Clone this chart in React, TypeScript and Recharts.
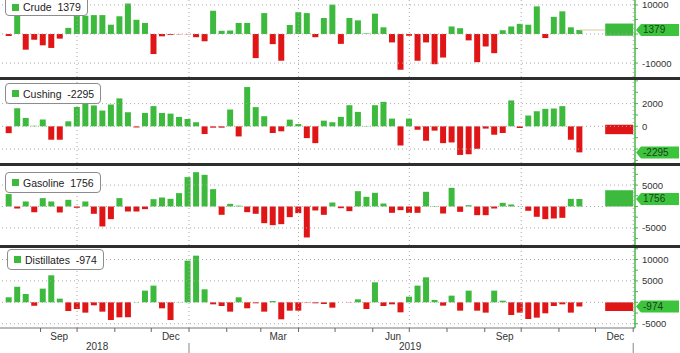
import React from "react";
import { BarChart, Bar, XAxis, YAxis, Cell, ReferenceLine, ReferenceArea, Legend } from "recharts";

const FONT = "'Liberation Sans', Arial, sans-serif";
const GREEN = "#3dba3d";
const RED = "#e01616";
const GRID = "#a8a8a8";
const AXIS_GREEN = "#46b846";

// weekly inventory changes, early Aug 2018 -> late Nov 2019 (one value per week)
const crude = [
  -700, 7500, -5400, -2000, -3900, -4800, -1600, 2100, 7800, 6300,
  6500, 6500, 3200, 6100, 10500, 4900, 3800, -6900, -800, -300,
  -100, -100, -1100, -2500, 8000, 1100, 1200, 3800, 3800, -8300,
  7200, -3500, -9200, 3100, 7500, 7200, -1100, 5500, 10100, -3400,
  5500, 4700, 200, 7000, 2300, -2900, -12300, -600, -9200, -2900,
  -10400, -8100, 2600, 2000, -2200, -9700, -4300, -6600, 1300, 2600,
  3500, 3200, 9500, -1400, 5900, 7800, 2300, 1379,
];
const cushing = [
  -600, 1600, 740, 60, 600, -1180, -1180, 440, 1700, 2070,
  1840, 1390, 1920, 2460, 1240, -100, 1180, 1780, 1180, 1120,
  830, 650, 360, -680, -120, -120, 1480, -890, 3460, 1690,
  890, -590, -440, 590, 200, -1040, -1480, 500, 360, 830,
  1860, 1270, 30, 1860, 2160, 680, -1690, 680, -300, -1270,
  -380, -1480, -1420, -2520, -2460, -1980, -200, -740, -590, 2280,
  -150, 950, 1330, 1540, 1570, 1780, -1180, -2295,
];
const gasoline = [
  2900, -470, 1170, -1330, 1950, 1170, -1400, 1560, -310, 1170,
  -1710, -4670, -2960, 1950, -1170, -1170, -620, 1710, 2100, 1790,
  3120, 6860, 8020, 7400, 4050, -1950, 620, 200, -1330, -1710,
  -3900, -4360, -4130, -2490, -1560, -7240, -930, -1950, 930, -400,
  -1090, 3580, 2260, 3200, 700, -1480, -860, -1480, -1480, 3430,
  100, -1640, 4360, -1250, 300, -2030, -2030, -470, 860, 470,
  50, -1010, -2410, -2960, -2800, -2650, 1790, 1756,
];
const distillates = [
  1170, 3660, 1950, -780, 3200, 6310, 860, -2030, -1560, -2410,
  -700, -2180, -4130, -3510, -3510, 50, 2730, 3900, -1400, -4130,
  50, 9740, 10900, 3040, -470, -860, -2180, 1170, -1400, -230,
  -2180, 300, -3970, -1950, -1950, -80, -230, -390, -1250, 0,
  -50, 700, -1560, 4670, -860, -470, -2340, 1320, 3900, 5840,
  550, -780, 1560, -1950, 2730, -1950, -2410, 2730, 390, -2960,
  -2410, -3900, -3580, -2570, -860, -470, -2410, -974,
];

// summary block at the right edge (low, high)
const crudeBox = [-600, 3600];
const cushingBox = [-690, 140];
const gasolineBox = [0, 3800];
const distillatesBox = [-2030, 0];

// x positions in weeks from the first bar
const xDomain = [-1.05, 73.5];
const boxSpan = [70.0, 73.29];
const quarterPos = [8.0, 21.14, 34.0, 47.0, 60.14, 73.29];
const monthTickPos = [3.71, 8.0, 12.43, 16.71, 21.14, 25.57, 29.57, 34.0, 38.29, 42.71, 47.0, 51.43, 55.86, 60.14, 64.57, 68.86, 73.29];
const monthLabelPos = [5.9, 19.0, 31.6, 45.1, 58.2, 71.2];
const monthLabels = ["Sep", "Dec", "Mar", "Jun", "Sep", "Dec"];
const yearLabelPos = [10.35, 47.1];
const yearLabels = ["2018", "2019"];
const yearBoundPos = [21.14, 73.29];

// right-axis ticks; labels hidden under the value tag are left out
const crudeTicks = [10000, 5000, 0, -5000, -10000];
const crudeLabels = [10000, -10000];
const cushingTicks = [4000, 3000, 2000, 1000, 0, -1000, -2000, -3000];
const cushingLabels = [2000, 0];
const gasolineTicks = [7500, 5000, 2500, 0, -2500, -5000, -7500];
const gasolineLabels = [5000, -5000];
const distillatesTicks = [12500, 10000, 7500, 5000, 2500, 0, -2500, -5000];
const distillatesLabels = [10000, 5000, -5000];
const gridLevels = {
  crude: [10000, 0, -10000],
  cushing: [2000, 0, -2000],
  gasoline: [5000, 0, -5000],
  distillates: [10000, 5000, 0, -5000],
};

function MonthTick(props: any) {
  const { x, y, payload } = props;
  const k = monthLabelPos.indexOf(payload.value);
  if (k >= 0)
    return <text x={x} y={y + 11.5} textAnchor="middle" fontSize={10} fill="#333" fontFamily={FONT}>{monthLabels[k]}</text>;
  return <line x1={x} x2={x} y1={y} y2={y + 4} stroke="#666" />;
}

function YearTick(props: any) {
  const { x, y, payload } = props;
  const k = yearLabelPos.indexOf(payload.value);
  if (k >= 0)
    return <text x={x} y={y + 9.5} textAnchor="middle" fontSize={10} fill="#333" fontFamily={FONT}>{yearLabels[k]}</text>;
  return <line x1={x} x2={x} y1={y + 3} y2={y + 13} stroke="#888" />;
}

const makeYTick = (labels: number[]) => (props: any) => {
  const { x, y, payload } = props;
  if (!labels.includes(payload.value)) return <g />;
  return (
    <text x={x} y={y} dy={3.5} textAnchor="start" fontSize={9.5} fill="#333" fontFamily={FONT}>
      {payload.value}
    </text>
  );
};

function Tag(props: any) {
  const { viewBox, text } = props;
  const x = viewBox.x + viewBox.width;
  const y = viewBox.y;
  return (
    <g>
      <polygon
        points={`${x + 1},${y} ${x + 6},${y - 6} ${x + 44},${y - 6} ${x + 44},${y + 6} ${x + 6},${y + 6}`}
        fill="#3cc43c"
      />
      <text x={x + 8} y={y} dy={3.5} fontSize={10} fill="#1d3d1d" fontFamily={FONT}>{text}</text>
    </g>
  );
}

function LegendBox({ name, value, tight }: { name: string; value: number; tight?: boolean }) {
  return (
    <div style={{
      display: "inline-flex", alignItems: tight ? "flex-end" : "center", boxSizing: "border-box", height: 21,
      border: "1px solid #8c8c8c", borderRadius: 4, background: "#fff",
      padding: tight ? "0 6px 2px 6px" : "0 6px",
      fontFamily: FONT, fontSize: 10.5, color: "#222", whiteSpace: "pre",
    }}>
      <span style={{ display: "inline-block", width: 7, height: 7, background: GREEN, marginRight: 4, marginBottom: tight ? 2 : 0 }} />
      {`${name}  ${value}`}
    </div>
  );
}

type PanelProps = {
  name: string; values: number[]; box: number[]; domain: number[];
  ticks: number[]; labels: number[]; grid: number[]; top: number; height: number;
  legendTop: number; legendLeft: number; withAxis?: boolean; lastLine?: boolean; tight?: boolean;
};

function Panel(p: PanelProps) {
  const rows = p.values.map((v, i) => ({ week: i, value: v }));
  const last = p.values[p.values.length - 1];
  return (
    <div style={{ position: "absolute", left: 0, top: p.top }}>
      <BarChart width={680} height={p.height} data={rows} margin={{ top: 0, right: 0, bottom: 0, left: 0 }}>
        {p.withAxis ? (
          <XAxis dataKey="week" type="number" domain={xDomain} allowDataOverflow height={12}
            ticks={[...monthTickPos, ...monthLabelPos]} interval={0} tickSize={0} tickMargin={0}
            tickLine={false} axisLine={{ stroke: "#777" }} tick={<MonthTick />} />
        ) : (
          <XAxis dataKey="week" type="number" domain={xDomain} allowDataOverflow hide />
        )}
        {p.withAxis && (
          <XAxis xAxisId="yr" dataKey="week" type="number" domain={xDomain} allowDataOverflow height={13}
            ticks={[...yearLabelPos, ...yearBoundPos]} interval={0} tickSize={0} tickMargin={0}
            tickLine={false} axisLine={false} tick={<YearTick />} />
        )}
        <YAxis orientation="right" type="number" width={45} domain={p.domain} allowDataOverflow
          ticks={p.ticks} interval={0} tickSize={3} tickMargin={4}
          axisLine={{ stroke: AXIS_GREEN, strokeWidth: 1.5 }} tickLine={{ stroke: AXIS_GREEN }}
          tick={makeYTick(p.labels)} />
        {p.grid.map((g) => (
          <ReferenceLine key={"h" + g} y={g} stroke={GRID} strokeDasharray="1 3" />
        ))}
        {quarterPos.map((q) => (
          <ReferenceLine key={"v" + q} x={q} stroke={GRID} strokeDasharray="1 3" />
        ))}
        <ReferenceArea x1={boxSpan[0]} x2={boxSpan[1]} y1={p.box[0]} y2={p.box[1]}
          fill={last >= 0 ? GREEN : RED} fillOpacity={1} stroke="none" />
        {p.lastLine && (
          <ReferenceLine segment={[{ x: p.values.length - 1, y: last }, { x: boxSpan[0], y: last }]}
            stroke="#d8c9a0" />
        )}
        <Bar dataKey="value" barSize={6} isAnimationActive={false}>
          {rows.map((r, i) => (
            <Cell key={i} fill={r.value >= 0 ? GREEN : RED} />
          ))}
        </Bar>
        <ReferenceLine y={last} stroke="none" label={<Tag text={String(last)} />} />
        <Legend layout="vertical" align="center" verticalAlign="middle"
          wrapperStyle={{ top: p.legendTop, left: p.legendLeft, width: "auto" }}
          content={() => <LegendBox name={p.name} value={last} tight={p.tight} />} />
      </BarChart>
    </div>
  );
}

const sepStyle = (top: number): React.CSSProperties => ({
  position: "absolute", left: 0, top, width: 680, height: 3, background: "#2e2e2e",
});

export default function App() {
  return (
    <div style={{ position: "absolute", left: 0, top: 0, width: 680, height: 353, background: "#fff", overflow: "hidden" }}>
      <Panel name="Crude" values={crude} box={crudeBox} domain={[-14800, 11700]} grid={gridLevels.crude}
        ticks={crudeTicks} labels={crudeLabels} top={0} height={77} legendTop={-5} legendLeft={5} lastLine tight />
      <Panel name="Cushing" values={cushing} box={cushingBox} domain={[-3230, 4080]} grid={gridLevels.cushing}
        ticks={cushingTicks} labels={cushingLabels} top={80} height={83} legendTop={3} legendLeft={5} />
      <Panel name="Gasoline" values={gasoline} box={gasolineBox} domain={[-9000, 9460]} grid={gridLevels.gasoline}
        ticks={gasolineTicks} labels={gasolineLabels} top={166} height={79} legendTop={6} legendLeft={5} />
      <Panel name="Distillates" values={distillates} box={distillatesBox} domain={[-6000, 12690]} grid={gridLevels.distillates}
        ticks={distillatesTicks} labels={distillatesLabels} top={248} height={105} legendTop={1} legendLeft={7} withAxis />
      <div style={sepStyle(77)} />
      <div style={sepStyle(163)} />
      <div style={sepStyle(245)} />
    </div>
  );
}
